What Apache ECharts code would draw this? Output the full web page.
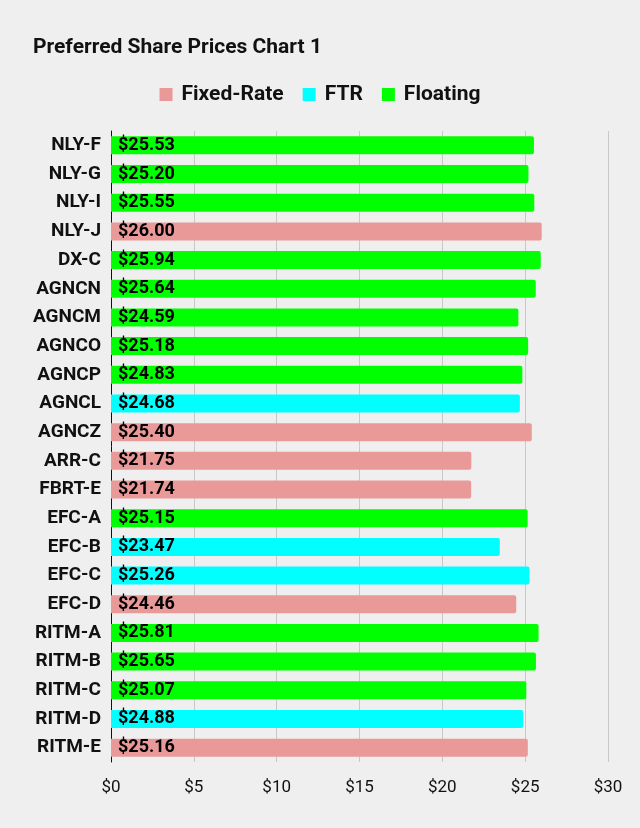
<!DOCTYPE html>
<html>
<head>
<meta charset="utf-8">
<script src="https://cdn.jsdelivr.net/npm/echarts@6/dist/echarts.min.js"></script>
<style>
  html, body { margin: 0; padding: 0; background: #efefef; }
  #chart { width: 640px; height: 828px; }
</style>
</head>
<body>
<div id="chart"></div>
<script>
var tickers = ['NLY-F', 'NLY-G', 'NLY-I', 'NLY-J', 'DX-C', 'AGNCN', 'AGNCM', 'AGNCO', 'AGNCP', 'AGNCL', 'AGNCZ',
  'ARR-C', 'FBRT-E', 'EFC-A', 'EFC-B', 'EFC-C', 'EFC-D', 'RITM-A', 'RITM-B', 'RITM-C', 'RITM-D', 'RITM-E']
var prices = [25.53, 25.20, 25.55, 26.00, 25.94, 25.64, 24.59, 25.18, 24.83, 24.68, 25.40,
  21.75, 21.74, 25.15, 23.47, 25.26, 24.46, 25.81, 25.65, 25.07, 24.88, 25.16]
var kinds = ['Floating', 'Floating', 'Floating', 'Fixed-Rate', 'Floating', 'Floating', 'Floating', 'Floating', 'Floating', 'FTR', 'Fixed-Rate',
  'Fixed-Rate', 'Fixed-Rate', 'Floating', 'FTR', 'FTR', 'Fixed-Rate', 'Floating', 'Floating', 'Floating', 'FTR', 'Fixed-Rate']
var seriesNames = ['Fixed-Rate', 'FTR', 'Floating']
var seriesColors = ['#ea9999', '#00ffff', '#00ff00']
var xTicks = [0, 5, 10, 15, 20, 25, 30]

// one series per type, empty where the ticker is another type
var series = seriesNames.map(function (name, i) {
  return {
    name: name,
    type: 'bar',
    stack: 'p',
    barWidth: 18,
    itemStyle: { color: seriesColors[i], borderRadius: [0, 2, 2, 0] },
    label: {
      show: true,
      position: 'insideLeft',
      distance: 7,
      color: '#000',
      fontFamily: 'Roboto',
      fontWeight: 'bold',
      fontSize: 18,
      formatter: function (p) { return '$' + p.value.toFixed(2) }
    },
    data: prices.map(function (v, j) { return kinds[j] === name ? v : null })
  }
})

var myChart = echarts.init(document.getElementById('chart'))
myChart.setOption({
  backgroundColor: '#efefef',
  animation: false,
  title: {
    text: 'Preferred Share Prices Chart 1',
    left: 28,
    top: 32,
    textStyle: { fontFamily: 'Roboto', fontWeight: 'bold', fontSize: 21, color: '#111' }
  },
  legend: {
    data: seriesNames,
    top: 79,
    left: 'center',
    itemWidth: 13,
    itemHeight: 13,
    itemGap: 19,
    icon: 'rect',
    textStyle: { fontFamily: 'Roboto', fontWeight: 'bold', fontSize: 21, color: '#111', padding: [0, 0, 0, 4] }
  },
  grid: { left: 111, right: 32, top: 131, bottom: 66 },
  xAxis: {
    type: 'value',
    min: 0,
    max: 30,
    interval: 5,
    axisLine: { show: false },
    axisTick: { show: false },
    splitLine: { lineStyle: { color: '#c8c8c8', width: 1 } },
    axisLabel: {
      margin: 17,
      fontFamily: 'Roboto',
      fontSize: 17,
      color: '#111',
      formatter: function (v) { return xTicks.indexOf(v) >= 0 ? '$' + v : '' }
    }
  },
  yAxis: {
    type: 'category',
    inverse: true,
    data: tickers,
    axisLine: { show: true, lineStyle: { color: '#111', width: 1 } },
    axisTick: { show: false },
    axisLabel: {
      margin: 10,
      fontFamily: 'Roboto',
      fontWeight: 'bold',
      fontSize: 19,
      color: '#111'
    }
  },
  series: series
})
</script>
</body>
</html>
